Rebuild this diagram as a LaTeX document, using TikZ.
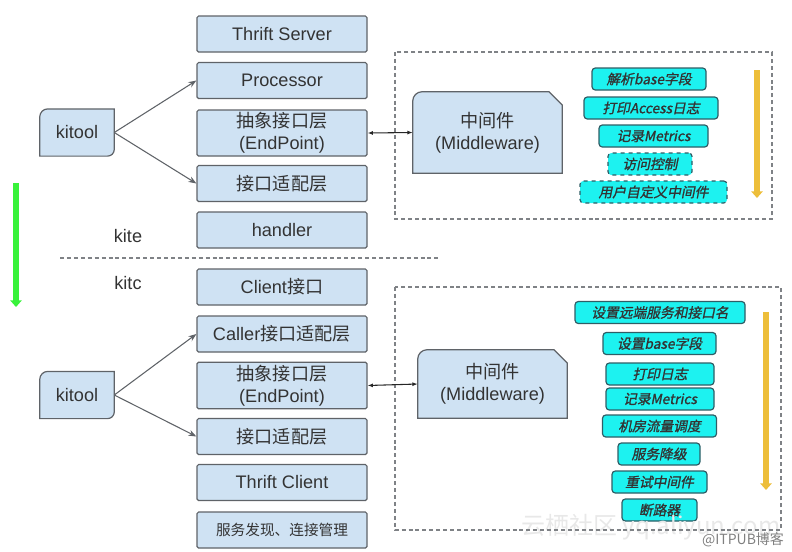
\documentclass[tikz,border=0pt]{standalone}
\usepackage{fontspec}
\setmainfont{Liberation Sans}
\newfontfamily\cjk{Noto Sans CJK SC}
\newfontfamily\cjkit[FakeSlant=0.2,FakeBold=1.2]{Noto Sans CJK SC}
\usetikzlibrary{arrows.meta,backgrounds}
\definecolor{boxblue}{HTML}{CFE2F3}
\definecolor{linegray}{HTML}{5F6368}
\definecolor{textgray}{HTML}{333333}
\definecolor{mwcyan}{HTML}{1DF2F0}
\definecolor{mwline}{HTML}{2F5E66}
\definecolor{flowgreen}{HTML}{38F23A}
\definecolor{floworange}{HTML}{EDBE3A}
\tikzset{
	layer/.style={draw=linegray,fill=boxblue,line width=0.9pt,rounded corners=1.2pt,
		minimum width=127.5pt,minimum height=27pt,inner sep=0pt,text=textgray,
		font=\fontsize{13.6}{16.5}\selectfont,align=center},
	blank/.style={minimum width=#1,inner sep=0pt,text=textgray,
		font=\fontsize{13.6}{16.5}\selectfont,align=center},
	mwstep/.style={draw=mwline,fill=mwcyan,line width=0.9pt,rounded corners=2.5pt,
		minimum width=#1*0.75pt,minimum height=16.5pt,inner sep=0pt,text=textgray,
		font=\cjkit\fontsize{10.3}{12}\selectfont},
	outline/.style={draw=linegray,fill=boxblue,line width=0.9pt},
	link/.style={draw=linegray,line width=0.8pt,-{Stealth[length=6pt,width=4.5pt]}},
	biarrow/.style={draw=black!85,line width=0.8pt,{Latex[length=4pt]}-{Latex[length=4pt]}},
	frame/.style={draw=linegray!80,line width=0.8pt,dash pattern=on 3pt off 2.2pt},
	flow/.style={line width=5pt,-{Triangle[width=8.5pt,length=5pt]}}
}
\begin{document}
\begin{tikzpicture}[x=0.75pt,y=-0.75pt]
	\useasboundingbox (0,0) rectangle (792,551);
	% kite (server side)
	\node[layer] (srv) at (282,34) {Thrift Server};
	\node[layer] (proc) at (282,80.5) {Processor};
	\node[layer,minimum height=34.5pt] (epA) at (282,133) {{\cjk 抽象接口层}\\(EndPoint)};
	\node[layer] (adpA) at (282,183.5) {\cjk 接口适配层};
	\node[layer] (hdl) at (282,230) {handler};
	\node[blank=55.5pt,minimum height=35pt] (ktA) at (77,132.5) {kitool};
	\node[blank=111.75pt,minimum height=60.75pt] (mwA) at (487.5,132.5) {{\cjk 中间件}\\(Middleware)};
	\node[blank=0pt] (kite) at (128,236) {kite};
	% kitc (client side)
	\node[layer] (cli) at (282,287) {Client{\cjk 接口}};
	\node[layer] (cal) at (282,334) {Caller{\cjk 接口适配层}};
	\node[layer,minimum height=35pt] (epB) at (282,385.5) {{\cjk 抽象接口层}\\(EndPoint)};
	\node[layer] (adpB) at (282,436.5) {\cjk 接口适配层};
	\node[layer] (tcl) at (282,482.5) {Thrift Client};
	\node[layer,font=\cjk\fontsize{11}{13}\selectfont] (disc) at (282,530) {服务发现、连接管理};
	\node[blank=55.5pt,minimum height=35pt] (ktB) at (77,395) {kitool};
	\node[blank=111.75pt,minimum height=51pt] (mwB) at (492.5,384) {{\cjk 中间件}\\(Middleware)};
	\node[blank=0pt] (kitc) at (128,283) {kitc};
	% middleware chains
	\node[mwstep=114] (m1) at (649,79) {解析base字段};
	\node[mwstep=134] (m2) at (651,108) {打印Access日志};
	\node[mwstep=109] (m3) at (653.5,136) {记录Metrics};
	\node[mwstep=84,dashed] (m4) at (650,164) {访问控制};
	\node[mwstep=147,dashed] (m5) at (653.5,192) {用户自定义中间件};
	\node[mwstep=170] (c1) at (660,312.5) {设置远端服务和接口名};
	\node[mwstep=113] (c2) at (659.5,343.5) {设置base字段};
	\node[mwstep=108] (c3) at (660,374) {打印日志};
	\node[mwstep=108] (c4) at (660,399) {记录Metrics};
	\node[mwstep=114] (c5) at (659.5,426) {机房流量调度};
	\node[mwstep=82] (c6) at (659,454) {服务降级};
	\node[mwstep=95] (c7) at (659.5,482) {重试中间件};
	\node[mwstep=75] (c8) at (659.5,510) {断路器};
	% watermark
	\node[text=black!9,font=\cjk\fontsize{18}{20}\selectfont] (wm) at (651,527) {云栖社区 yq.aliyun.com};
	\node[text=black!50,font=\cjk\fontsize{10.5}{12}\selectfont] (src) at (743,540) {@ITPUB博客};
	\begin{scope}[on background layer]
		\foreach \k in {ktA,ktB}
			\draw[outline](\k.south west)--([yshift=-6pt]\k.north west)
				arc[start angle=180,end angle=90,radius=6pt]--(\k.north east)
				--([yshift=5pt]\k.south east)arc[start angle=0,end angle=-90,radius=5pt]--cycle;
		\foreach \m in {mwA,mwB}
			\draw[outline](\m.south west)--([yshift=-7pt]\m.north west)
				arc[start angle=180,end angle=90,radius=7pt]--([xshift=-10pt]\m.north east)
				--([yshift=-10pt]\m.north east)--(\m.south east)--cycle;
	\end{scope}
	\draw[frame](395,52)rectangle(772,219);
	\draw[frame](395,287)rectangle(781,530);
	\draw[frame](60,258)--(440,258);
	\draw[link](ktA.east)--(proc.west);
	\draw[link](ktA.east)--(adpA.west);
	\draw[link](ktB.east)--(cal.west);
	\draw[link](ktB.east)--(adpB.west);
	\draw[biarrow](epA.east)--(mwA.west);
	\draw[biarrow](epB.east)--(mwB.west);
	\coordinate(g1)at(16,183);\coordinate(g2)at(16,307);
	\coordinate(o1)at(757,70);\coordinate(o2)at(757,198);
	\coordinate(o3)at(766,312);\coordinate(o4)at(766,490);
	\draw[flow,flowgreen](g1)--(g2);
	\draw[flow,floworange](o1)--(o2);
	\draw[flow,floworange](o3)--(o4);
\end{tikzpicture}
\end{document}
